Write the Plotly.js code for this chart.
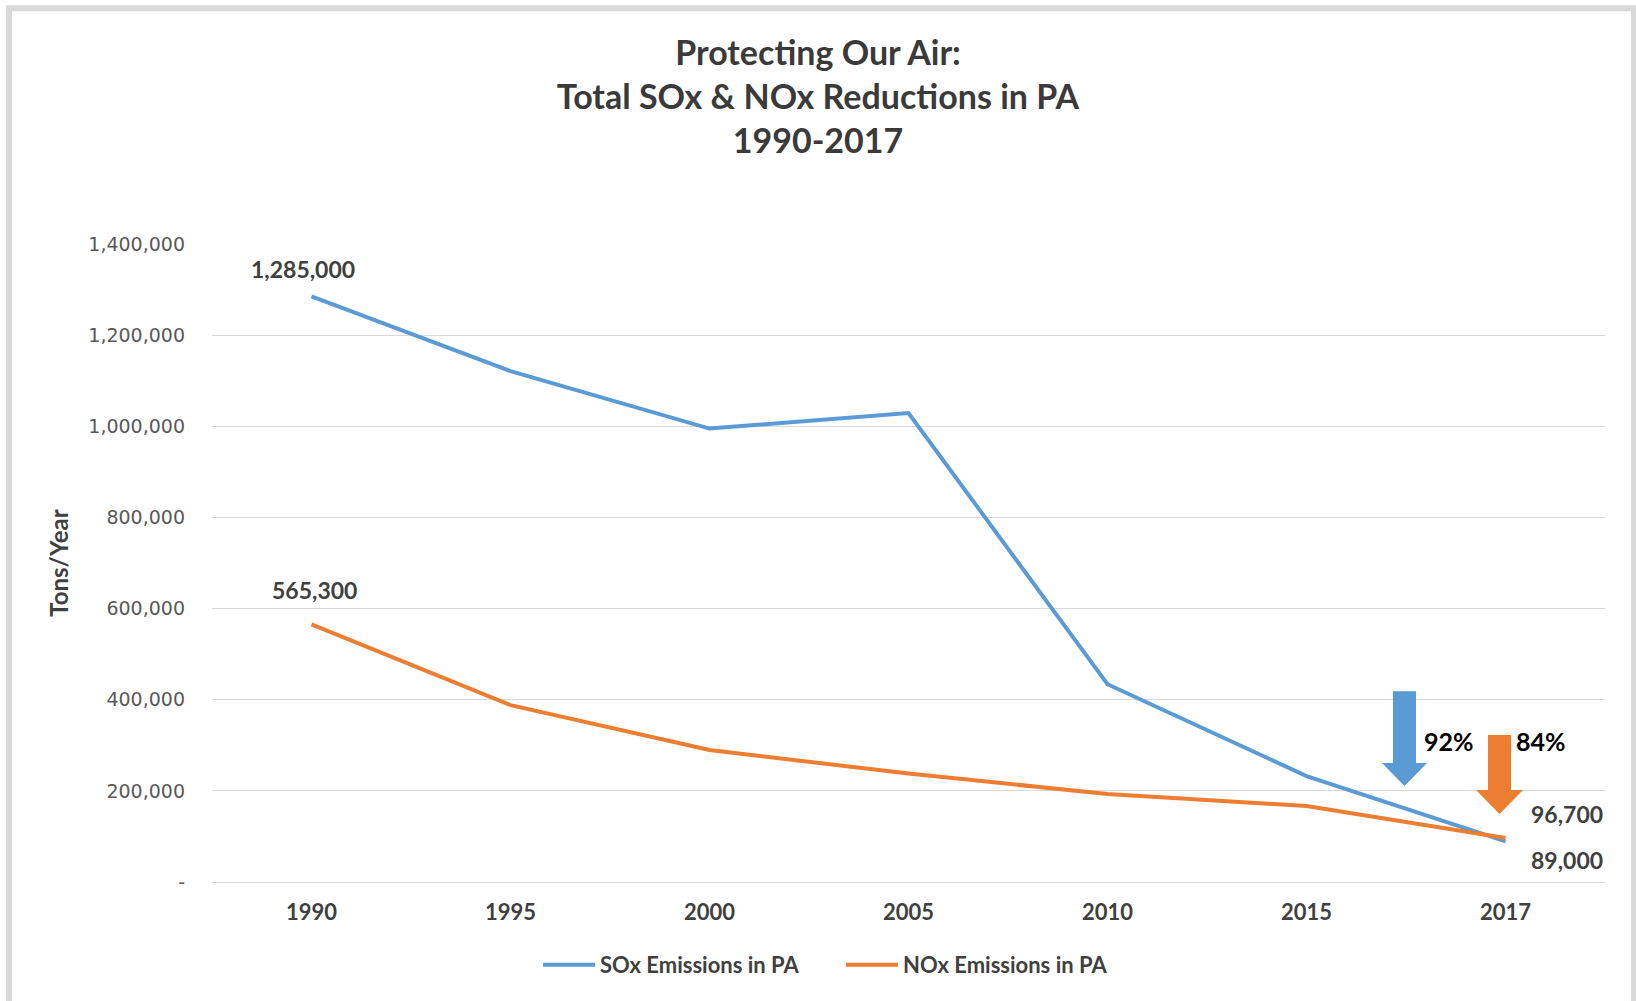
<!DOCTYPE html>
<html>
<head>
<meta charset="utf-8">
<script src="https://cdn.plot.ly/plotly-3.0.1.min.js"></script>
<style>
  html, body { margin: 0; padding: 0; background: #ffffff; }
  #chart { width: 1636px; height: 1001px; }
</style>
</head>
<body>
<div id="chart"></div>
<script>
// ---- data ----
const years = ['1990', '1995', '2000', '2005', '2010', '2015', '2017'];
const soxValues = [1285000, 1121000, 995000, 1029000, 434000, 232500, 89000];
const noxValues = [565300, 388000, 289500, 238000, 193000, 166700, 96700];
const seriesNames = ['SOx Emissions in PA', 'NOx Emissions in PA'];
const yTickValues = [0, 200000, 400000, 600000, 800000, 1000000, 1200000, 1400000];
const yTickLabels = ['-', '200,000', '400,000', '600,000', '800,000', '1,000,000', '1,200,000', '1,400,000'];
const reductionLabels = ['92%', '84%'];
const titleLines = ['Protecting Our Air:', 'Total SOx & NOx Reductions in PA', '1990-2017'];
const yAxisTitle = 'Tons/Year';

// ---- layout geometry ----
const W = 1636, H = 1001;
const M = { l: 212, r: 31, t: 243.5, b: 119 };
const plotW = W - M.l - M.r, plotH = H - M.t - M.b;
const px = x => (x - M.l) / plotW;
const py = y => (H - M.b - y) / plotH;

const BLUE = '#5B9BD5', ORANGE = '#ED7D31';
const FONT = 'Lato, "Open Sans", sans-serif';
const fmt = v => v.toLocaleString('en-US');

function arrowPath(cx, top, headY, tipY, shaftHalf, headHalf) {
  const pts = [
    [cx - shaftHalf, top], [cx + shaftHalf, top], [cx + shaftHalf, headY],
    [cx + headHalf, headY], [cx, tipY], [cx - headHalf, headY], [cx - shaftHalf, headY]
  ];
  return 'M ' + pts.map(p => px(p[0]).toFixed(5) + ',' + py(p[1]).toFixed(5)).join(' L ') + ' Z';
}

const traces = [
  { x: years, y: soxValues, name: seriesNames[0], type: 'scatter', mode: 'lines',
    line: { color: BLUE, width: 4 }, hoverinfo: 'x+y' },
  { x: years, y: noxValues, name: seriesNames[1], type: 'scatter', mode: 'lines',
    line: { color: ORANGE, width: 4 }, hoverinfo: 'x+y' }
];

const labelFont = { family: FONT, size: 23, color: '#404040', weight: 'bold' };
const first = 0, last = years.length - 1;
function dataLabel(idx, value, xs, ys) {
  return { xref: 'x', yref: 'y', x: idx, y: value, text: fmt(value), showarrow: false,
    xanchor: 'center', yanchor: 'middle', xshift: xs, yshift: ys, font: labelFont };
}
const annotations = [
  dataLabel(first, soxValues[first], -9, 27),
  dataLabel(first, noxValues[first], 3, 34),
  dataLabel(last, noxValues[last], 61, 24),
  dataLabel(last, soxValues[last], 61, -19),
  { xref: 'paper', yref: 'paper', x: px(1449), y: py(741), xanchor: 'center', yanchor: 'middle',
    text: reductionLabels[0], showarrow: false,
    font: { family: FONT, size: 25, color: '#000000', weight: 'bold' } },
  { xref: 'paper', yref: 'paper', x: px(1541), y: py(741), xanchor: 'center', yanchor: 'middle',
    text: reductionLabels[1], showarrow: false,
    font: { family: FONT, size: 25, color: '#000000', weight: 'bold' } }
];

const shapes = [
  { type: 'rect', xref: 'paper', yref: 'paper', layer: 'below',
    x0: px(9), x1: px(1634), y0: py(1010), y1: py(7.5),
    line: { color: '#d9d9d9', width: 6 }, fillcolor: 'rgba(0,0,0,0)' },
  { type: 'path', xref: 'paper', yref: 'paper', path: arrowPath(1404.5, 691, 763, 786, 11.5, 22.5),
    fillcolor: BLUE, line: { width: 0 } },
  { type: 'path', xref: 'paper', yref: 'paper', path: arrowPath(1499.5, 735, 790, 814, 11.5, 23.5),
    fillcolor: ORANGE, line: { width: 0 } }
];

const layout = {
  width: W, height: H,
  margin: M,
  paper_bgcolor: '#ffffff', plot_bgcolor: '#ffffff',
  font: { family: FONT, color: '#404040' },
  title: {
    text: titleLines.join('<br>'),
    x: 0.5, xref: 'container', xanchor: 'center',
    y: 1 - 65 / H, yref: 'container', yanchor: 'top',
    font: { family: FONT, size: 34, color: '#3a3a3a', weight: 'bold' }
  },
  xaxis: {
    type: 'category', range: [-0.5, years.length - 0.5],
    showgrid: false, zeroline: false, showline: true, linecolor: '#d9d9d9', linewidth: 1.3,
    ticks: '', ticklabelstandoff: 10,
    tickfont: { family: FONT, size: 22, color: '#404040', weight: 'bold' },
    fixedrange: true
  },
  yaxis: {
    range: [0, 1400000], tickvals: yTickValues, ticktext: yTickLabels,
    showgrid: true, gridcolor: '#d9d9d9', gridwidth: 1.3, zeroline: false, showline: false,
    ticks: '', ticklabelstandoff: 26,
    tickfont: { family: '"DejaVu Sans", sans-serif', size: 19, color: '#595959' },
    title: { text: yAxisTitle, standoff: 12, font: { family: FONT, size: 24, color: '#404040', weight: 'bold' } },
    fixedrange: true
  },
  showlegend: true,
  legend: {
    orientation: 'h', x: px(538), xanchor: 'left', y: py(965), yanchor: 'middle',
    font: { family: FONT, size: 22, color: '#404040', weight: 'bold' },
    bgcolor: 'rgba(0,0,0,0)', itemwidth: 52, traceorder: 'normal',
    entrywidth: 236, entrywidthmode: 'pixels'
  },
  annotations: annotations,
  shapes: shapes
};

Plotly.newPlot('chart', traces, layout, { displayModeBar: false, responsive: false });
</script>
</body>
</html>
